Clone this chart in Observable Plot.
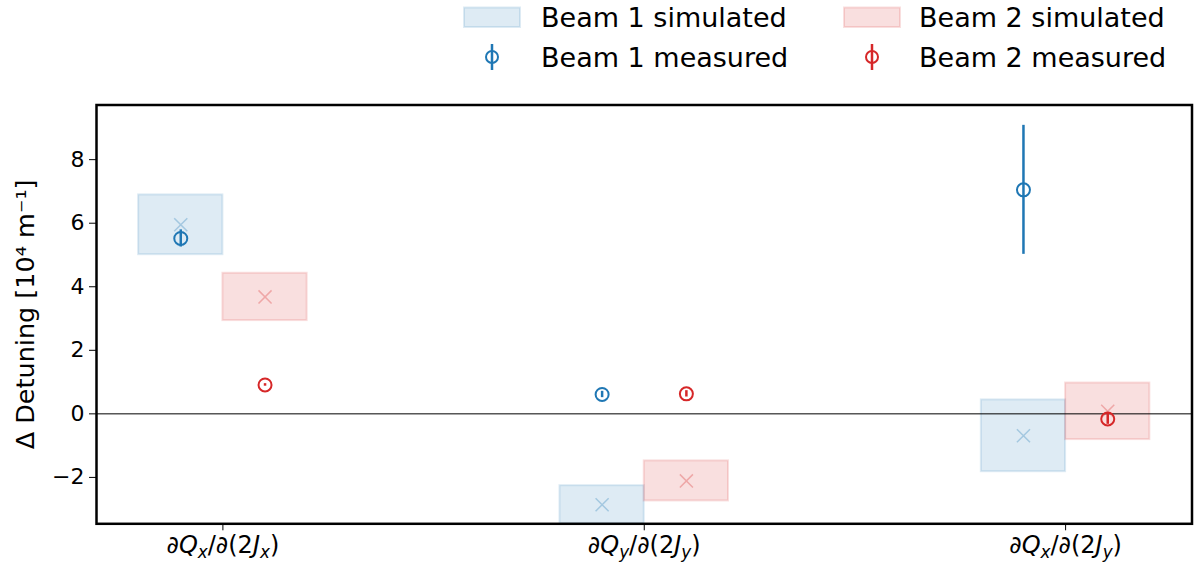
<!DOCTYPE html>
<html>
<head>
<meta charset="utf-8">
<script src="https://cdn.jsdelivr.net/npm/d3@7"></script>
<script src="https://cdn.jsdelivr.net/npm/@observablehq/plot@0.6"></script>
<style>
  body { margin: 0; background: #fff; font-family: "DejaVu Sans", sans-serif; }
  svg { display: block; }
</style>
</head>
<body>
<div id="chart"></div>
<script>
// Detuning coefficient per category: planes of Q and J in ∂Q/∂(2J)
const qPlane = ["x", "y", "x"];
const jPlane = ["x", "y", "y"];

// Simulated values (centre) and their spread, in 10^4 m^-1
const beam1Sim = [5.95, -2.86, -0.69];
const beam1SimErr = [0.94, 0.60, 1.13];
const beam2Sim = [3.68, -2.11, 0.08];
const beam2SimErr = [0.745, 0.63, 0.89];

// Measured values and their uncertainty
const beam1Meas = [5.52, 0.61, 7.05];
const beam1MeasErr = [0.27, 0.10, 2.03];
const beam2Meas = [0.91, 0.63, -0.16];
const beam2MeasErr = [0.04, 0.10, 0.17];

const yTicks = [-2, 0, 2, 4, 6, 8];
const beamNames = ["Beam 1", "Beam 2"];
const beamColors = ["#1f77b4", "#d62728"];
const yLabel = "Δ Detuning [10⁴ m⁻¹]";

const offset = 0.1;   // each beam sits half a box to either side of the category
const halfBox = 0.1;

const rows = [];
qPlane.forEach((_, i) => {
  rows.push({beam: "Beam 1", x: i - offset, sim: beam1Sim[i], simErr: beam1SimErr[i], meas: beam1Meas[i], measErr: beam1MeasErr[i]});
  rows.push({beam: "Beam 2", x: i + offset, sim: beam2Sim[i], simErr: beam2SimErr[i], meas: beam2Meas[i], measErr: beam2MeasErr[i]});
});

const W = 1198, H = 480, legendH = 85;

// ---- legend (above the plot) ----
const legend = d3.create("svg")
  .attr("width", W).attr("height", legendH)
  .style("font-family", "DejaVu Sans")
  .style("font-size", "27px");

const cols = [{px: 464, mx: 492, tx: 541}, {px: 844, mx: 872, tx: 919}];
beamNames.forEach((name, k) => {
  const c = cols[k], color = beamColors[k];
  legend.append("rect")
    .attr("x", c.px).attr("y", 7.5).attr("width", 56).attr("height", 19.5)
    .attr("fill", color).attr("fill-opacity", 0.15)
    .attr("stroke", color).attr("stroke-opacity", 0.15).attr("stroke-width", 2);
  legend.append("text").attr("x", c.tx).attr("y", 26.8).text(`${name} simulated`);
  legend.append("line")
    .attr("x1", c.mx).attr("x2", c.mx).attr("y1", 44).attr("y2", 70)
    .attr("stroke", color).attr("stroke-width", 2.5);
  legend.append("circle")
    .attr("cx", c.mx).attr("cy", 57).attr("r", 6)
    .attr("fill", "none").attr("stroke", color).attr("stroke-width", 2);
  legend.append("text").attr("x", c.tx).attr("y", 66.5).text(`${name} measured`);
});

// ---- plot ----
const chart = Plot.plot({
  width: W,
  height: H,
  marginLeft: 96,
  marginRight: 6.5,
  marginTop: 19.5,
  marginBottom: 41.7,
  style: {fontFamily: "DejaVu Sans", color: "black", background: "white"},
  x: {domain: [-0.3, 2.3]},
  y: {domain: [-3.46, 9.72]},
  color: {domain: beamNames, range: beamColors},
  marks: [
    Plot.rect(rows, {
      x1: d => d.x - halfBox, x2: d => d.x + halfBox,
      y1: d => d.sim - d.simErr, y2: d => d.sim + d.simErr,
      fill: "beam", fillOpacity: 0.15,
      stroke: "beam", strokeOpacity: 0.15, strokeWidth: 2,
      clip: true
    }),
    Plot.ruleY([0], {stroke: "black", strokeWidth: 1}),
    Plot.dot(rows, {x: "x", y: "sim", symbol: "times", r: 6, stroke: "beam", strokeOpacity: 0.3, strokeWidth: 1.5}),
    Plot.ruleX(rows, {x: "x", y1: d => d.meas - d.measErr, y2: d => d.meas + d.measErr, stroke: "beam", strokeWidth: 2.5}),
    Plot.dot(rows, {x: "x", y: "meas", r: 6.5, stroke: "beam", strokeWidth: 2, fill: "none"}),
    Plot.axisY(yTicks, {
      tickSize: 7, tickPadding: 5, fontSize: 22,
      tickFormat: d => d < 0 ? "\u2212" + (-d) : String(d),
      label: null
    }),
    Plot.axisX(qPlane.map((_, i) => i), {
      tickSize: 7, tickPadding: 5, fontSize: 24,
      tickFormat: i => `∂Q${qPlane[i]}/∂(2J${jPlane[i]})`,
      label: null
    }),
    Plot.text([yLabel], {
      text: d => d, frameAnchor: "left", rotate: -90, dx: -71,
      fontSize: 25.5, textAnchor: "middle", lineAnchor: "middle"
    }),
    Plot.frame({stroke: "black", strokeWidth: 2.5})
  ]
});

// Typeset the category labels: italic symbols with subscript planes
const subShift = 5;
d3.select(chart).selectAll('g[aria-label="x-axis tick label"] text').each(function(_, i) {
  const t = d3.select(this);
  t.text(null);
  const parts = [
    {s: "∂"},
    {s: "Q", it: true},
    {s: qPlane[i], it: true, sub: true},
    {s: "/∂(2"},
    {s: "J", it: true},
    {s: jPlane[i], it: true, sub: true},
    {s: ")"}
  ];
  let shifted = false;
  parts.forEach(p => {
    const ts = t.append("tspan").text(p.s);
    if (p.it) ts.attr("font-style", "italic");
    if (p.sub) { ts.attr("font-size", "16.8px").attr("dy", subShift); shifted = true; }
    else if (shifted) { ts.attr("dy", -subShift); shifted = false; }
  });
});

const root = document.getElementById("chart");
root.appendChild(legend.node());
root.appendChild(chart);
</script>
</body>
</html>
